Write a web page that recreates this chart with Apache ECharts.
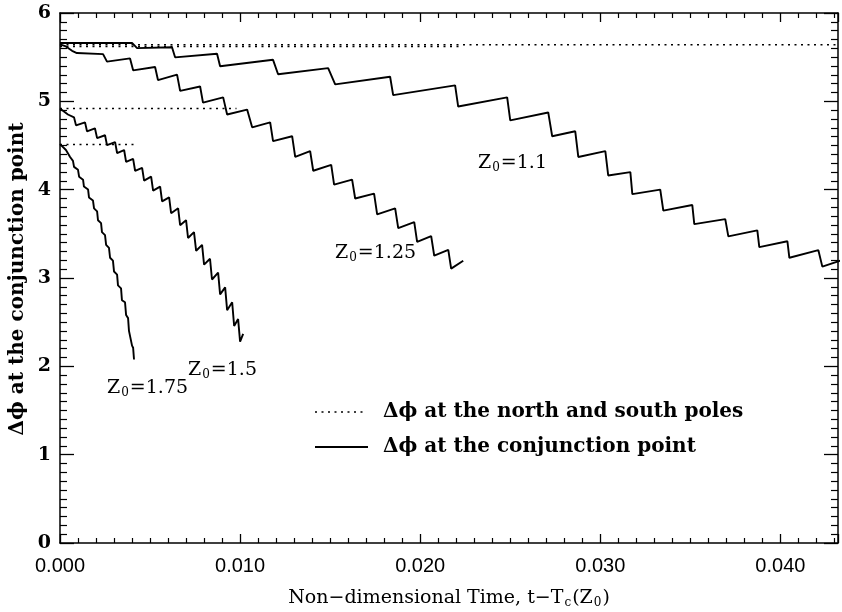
<!DOCTYPE html>
<html>
<head>
<meta charset="utf-8">
<script src="https://cdn.jsdelivr.net/npm/echarts@6/dist/echarts.min.js"></script>
<style>
    html, body { margin: 0; padding: 0; background: #fff; }
    #container { width: 842px; height: 612px; }
</style>
</head>
<body>
<div id="container"></div>
<script>
// axis ranges
var timeMax = 0.0432;
var phiMax = 6;

// Z0 = 1.1  (conjunction point)
var z110Time = [0, 0.0040, 0.00428, 0.00622, 0.00639, 0.00872, 0.00889, 0.01183, 0.01211, 0.01489, 0.01528, 0.01833, 0.0185, 0.02194, 0.02211, 0.02483, 0.025, 0.02711, 0.02733, 0.02861, 0.02878, 0.03028, 0.03044, 0.03167, 0.03178, 0.03333, 0.0335, 0.03511, 0.03522, 0.03694, 0.03711, 0.03872, 0.03883, 0.04039, 0.0405, 0.04211, 0.04233, 0.04344];
var z110Phi = [5.661, 5.661, 5.602, 5.612, 5.498, 5.539, 5.397, 5.470, 5.306, 5.376, 5.192, 5.278, 5.070, 5.180, 4.941, 5.045, 4.784, 4.874, 4.605, 4.661, 4.370, 4.437, 4.161, 4.199, 3.949, 4.001, 3.763, 3.826, 3.610, 3.666, 3.472, 3.539, 3.349, 3.416, 3.229, 3.315, 3.129, 3.204];

// Z0 = 1.25
var z125Time = [0, 0.00033, 0.00067, 0.00094, 0.00239, 0.00261, 0.00389, 0.00406, 0.00528, 0.00544, 0.0065, 0.00667, 0.00778, 0.00794, 0.00906, 0.00928, 0.01039, 0.01067, 0.01167, 0.01183, 0.01289, 0.01306, 0.01389, 0.01406, 0.01506, 0.01522, 0.01622, 0.01639, 0.01744, 0.01761, 0.01861, 0.01878, 0.01967, 0.01983, 0.02061, 0.02078, 0.02156, 0.02172, 0.02239];
var z125Phi = [5.645, 5.621, 5.572, 5.547, 5.535, 5.449, 5.486, 5.351, 5.388, 5.241, 5.302, 5.119, 5.168, 4.985, 5.045, 4.851, 4.907, 4.706, 4.762, 4.549, 4.605, 4.370, 4.437, 4.214, 4.281, 4.057, 4.113, 3.900, 3.956, 3.721, 3.789, 3.565, 3.632, 3.408, 3.475, 3.252, 3.319, 3.106, 3.196];

// Z0 = 1.5
var z150Time = [0, 0.00044, 0.00078, 0.00089, 0.00139, 0.0015, 0.00194, 0.00206, 0.0025, 0.00261, 0.00306, 0.00317, 0.00356, 0.00367, 0.00406, 0.00417, 0.00456, 0.00467, 0.00506, 0.00517, 0.00556, 0.00567, 0.00606, 0.00617, 0.00656, 0.00667, 0.007, 0.00711, 0.00744, 0.00756, 0.00789, 0.008, 0.00833, 0.00844, 0.00878, 0.00889, 0.00917, 0.00928, 0.00956, 0.00967, 0.00989, 0.01, 0.01017];
var z150Phi = [4.918, 4.851, 4.818, 4.728, 4.762, 4.661, 4.695, 4.583, 4.616, 4.504, 4.538, 4.415, 4.449, 4.314, 4.348, 4.214, 4.247, 4.102, 4.147, 3.990, 4.035, 3.867, 3.912, 3.733, 3.789, 3.598, 3.654, 3.453, 3.520, 3.308, 3.375, 3.151, 3.218, 2.983, 3.061, 2.815, 2.894, 2.636, 2.725, 2.457, 2.535, 2.279, 2.368];

// Z0 = 1.75
var z175Time = [0, 0.00033, 0.00056, 0.00072, 0.00078, 0.001, 0.00106, 0.00128, 0.00133, 0.00156, 0.00161, 0.00183, 0.00189, 0.00206, 0.00211, 0.00228, 0.00233, 0.0025, 0.00256, 0.00272, 0.00278, 0.00294, 0.003, 0.00317, 0.00322, 0.00339, 0.00344, 0.00361, 0.00367, 0.00378, 0.00383, 0.00394, 0.004, 0.00406, 0.00411];
var z175Phi = [4.516, 4.449, 4.370, 4.326, 4.258, 4.225, 4.147, 4.113, 4.035, 4.001, 3.912, 3.878, 3.789, 3.755, 3.654, 3.621, 3.520, 3.486, 3.375, 3.341, 3.229, 3.196, 3.073, 3.039, 2.916, 2.883, 2.748, 2.725, 2.580, 2.546, 2.402, 2.390, 2.234, 2.211, 2.077];

// north / south pole levels (dotted), one per Z0, and where each stops
var poleNames = ['1.1', '1.25', '1.5', '1.75'];
var polePhi = [5.64, 5.62, 4.92, 4.51];
var poleEnd = [0.0432, 0.0223, 0.0098, 0.0042];

var serif = 'DejaVu Serif';

var page = {
    init: function () {
        this.chart = echarts.init(document.getElementById('container'), null, { renderer: 'canvas' });
        this.generateChart();
    },
    zip: function (xs, ys) {
        var out = [];
        for (var i = 0; i < xs.length; i++) out.push([xs[i], ys[i]]);
        return out;
    },
    lineSeries: function (name, data, dotted) {
        return {
            name: name,
            type: 'line',
            data: data,
            showSymbol: false,
            symbol: 'none',
            silent: true,
            clip: true,
            lineStyle: dotted
                ? { color: '#000', width: 1.5, type: [2, 4.5] }
                : { color: '#000', width: 1.9 }
        };
    },
    // Z0 label, rich text with subscript
    zLabel: function (x, y, val) {
        return {
            type: 'text', x: x, y: y,
            style: {
                text: '{n|Z}{s|0}{n|=' + val + '}',
                verticalAlign: 'middle',
                rich: this.rich
            }
        };
    },
    rich: {
        n: { fontFamily: serif, fontSize: 19, color: '#000', lineHeight: 22 },
        s: { fontFamily: serif, fontSize: 12, color: '#000', lineHeight: 12, padding: [12, 1, 0, 1], verticalAlign: 'bottom' }
    },
    generateChart: function () {
        var that = this;
        var series = [];
        series.push(that.lineSeries('Z0=1.1', that.zip(z110Time, z110Phi)));
        series.push(that.lineSeries('Z0=1.25', that.zip(z125Time, z125Phi)));
        series.push(that.lineSeries('Z0=1.5', that.zip(z150Time, z150Phi)));
        series.push(that.lineSeries('Z0=1.75', that.zip(z175Time, z175Phi)));
        for (var i = 0; i < polePhi.length; i++) {
            series.push(that.lineSeries('pole ' + poleNames[i], [[0, polePhi[i]], [poleEnd[i], polePhi[i]]], true));
        }

        var axisLine = { show: true, onZero: false, lineStyle: { color: '#000', width: 1.5 } };
        var xAxisBase = function (pos, label) {
            return {
                type: 'value', position: pos, min: 0, max: timeMax, interval: 0.01,
                axisLine: axisLine,
                axisTick: { show: true, inside: true, length: 9, lineStyle: { color: '#000', width: 1.3 } },
                minorTick: { show: true, splitNumber: 10, length: 5, lineStyle: { color: '#000', width: 1.2 } },
                splitLine: { show: false },
                axisLabel: label ? {
                    show: true, margin: 13, color: '#000',
                    fontFamily: 'Liberation Sans', fontSize: 20,
                    showMaxLabel: false,
                    formatter: function (v) { return v.toFixed(3); }
                } : { show: false }
            };
        };
        var yAxisBase = function (pos, label) {
            return {
                type: 'value', position: pos, min: 0, max: phiMax, interval: 1,
                axisLine: axisLine,
                axisTick: { show: true, inside: true, length: 14, lineStyle: { color: '#000', width: 1.3 } },
                minorTick: { show: true, splitNumber: 10, length: 7, lineStyle: { color: '#000', width: 1.2 } },
                splitLine: { show: false },
                axisLabel: label ? {
                    show: true, margin: 9, color: '#000',
                    fontFamily: serif, fontSize: 19, fontWeight: 'bold'
                } : { show: false }
            };
        };

        var option = {
            animation: false,
            backgroundColor: '#fff',
            grid: { left: 60, right: 4, top: 13, bottom: 69 },
            xAxis: [xAxisBase('bottom', true), xAxisBase('top', false)],
            yAxis: [yAxisBase('left', true), yAxisBase('right', false)],
            series: series,
            graphic: [
                // axis titles
                {
                    type: 'text', x: 449, y: 598,
                    style: {
                        text: '{n|Non\u2212dimensional Time, t\u2212T}{s|c}{n|(Z}{s|0}{n|)}',
                        align: 'center', verticalAlign: 'middle', rich: that.rich
                    }
                },
                {
                    type: 'text', x: 18, y: 279, rotation: Math.PI / 2,
                    style: {
                        text: '\u0394\u03d5 at the conjunction point',
                        fontFamily: serif, fontSize: 20, fontWeight: 'bold', fill: '#000',
                        align: 'center', verticalAlign: 'middle'
                    }
                },
                // curve labels
                that.zLabel(478, 163, '1.1'),
                that.zLabel(335, 253, '1.25'),
                that.zLabel(188, 370, '1.5'),
                that.zLabel(107, 388, '1.75'),
                // legend
                {
                    type: 'line', shape: { x1: 315, y1: 412, x2: 367, y2: 412 },
                    style: { stroke: '#000', lineWidth: 1.5, lineDash: [2, 4.5] }
                },
                {
                    type: 'text', x: 383, y: 412,
                    style: {
                        text: '\u0394\u03d5 at the north and south poles',
                        fontFamily: serif, fontSize: 20, fontWeight: 'bold', fill: '#000', verticalAlign: 'middle'
                    }
                },
                {
                    type: 'line', shape: { x1: 315, y1: 447, x2: 368, y2: 447 },
                    style: { stroke: '#000', lineWidth: 1.9 }
                },
                {
                    type: 'text', x: 383, y: 447,
                    style: {
                        text: '\u0394\u03d5 at the conjunction point',
                        fontFamily: serif, fontSize: 20, fontWeight: 'bold', fill: '#000', verticalAlign: 'middle'
                    }
                }
            ]
        };
        that.chart.setOption(option);
    }
};

page.init();
</script>
</body>
</html>
